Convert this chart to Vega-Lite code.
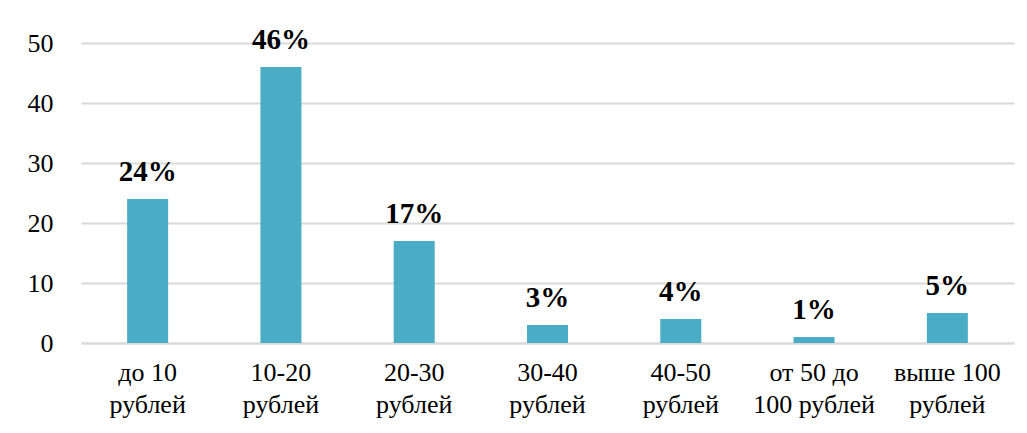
{
  "$schema": "https://vega.github.io/schema/vega-lite/v6.json",
  "autosize": {"type": "none"},
  "width": 933,
  "height": 300,
  "padding": {"left": 81, "top": 43, "right": 13, "bottom": 90},
  "background": "white",
  "config": {
    "view": {"stroke": null},
    "font": "Liberation Serif"
  },
  "data": {
    "values": [
      {"cat": "до 10\nрублей", "value": 24, "label": "24%"},
      {"cat": "10-20\nрублей", "value": 46, "label": "46%"},
      {"cat": "20-30\nрублей", "value": 17, "label": "17%"},
      {"cat": "30-40\nрублей", "value": 3, "label": "3%"},
      {"cat": "40-50\nрублей", "value": 4, "label": "4%"},
      {"cat": "от 50 до\n100 рублей", "value": 1, "label": "1%"},
      {"cat": "выше 100\nрублей", "value": 5, "label": "5%"}
    ]
  },
  "encoding": {
    "x": {
      "field": "cat", "type": "nominal", "sort": null,
      "axis": {
        "title": null, "labelAngle": 0, "domain": true, "domainColor": "#d9d9d9", "domainWidth": 2,
        "ticks": false, "labelPadding": 16, "labelFontSize": 26, "labelColor": "black",
        "labelFont": "Liberation Serif", "labelLineHeight": 32, "labelBaseline": "top",
        "labelExpr": "split(datum.label, '\\n')"
      }
    },
    "y": {
      "field": "value", "type": "quantitative",
      "scale": {"domain": [0, 50], "nice": false},
      "axis": {
        "title": null, "values": [0, 10, 20, 30, 40, 50], "domain": false, "ticks": false,
        "grid": true, "gridColor": "#d9d9d9", "gridWidth": 2,
        "labelPadding": 28, "labelFontSize": 26, "labelColor": "black", "labelFont": "Liberation Serif"
      }
    }
  },
  "layer": [
    {"mark": {"type": "bar", "color": "#4BACC6", "size": 41}},
    {
      "mark": {"type": "text", "fontWeight": "bold", "fontSize": 29, "dy": -18, "baseline": "alphabetic", "color": "black", "font": "Liberation Serif"},
      "encoding": {"text": {"field": "label"}}
    }
  ]
}
